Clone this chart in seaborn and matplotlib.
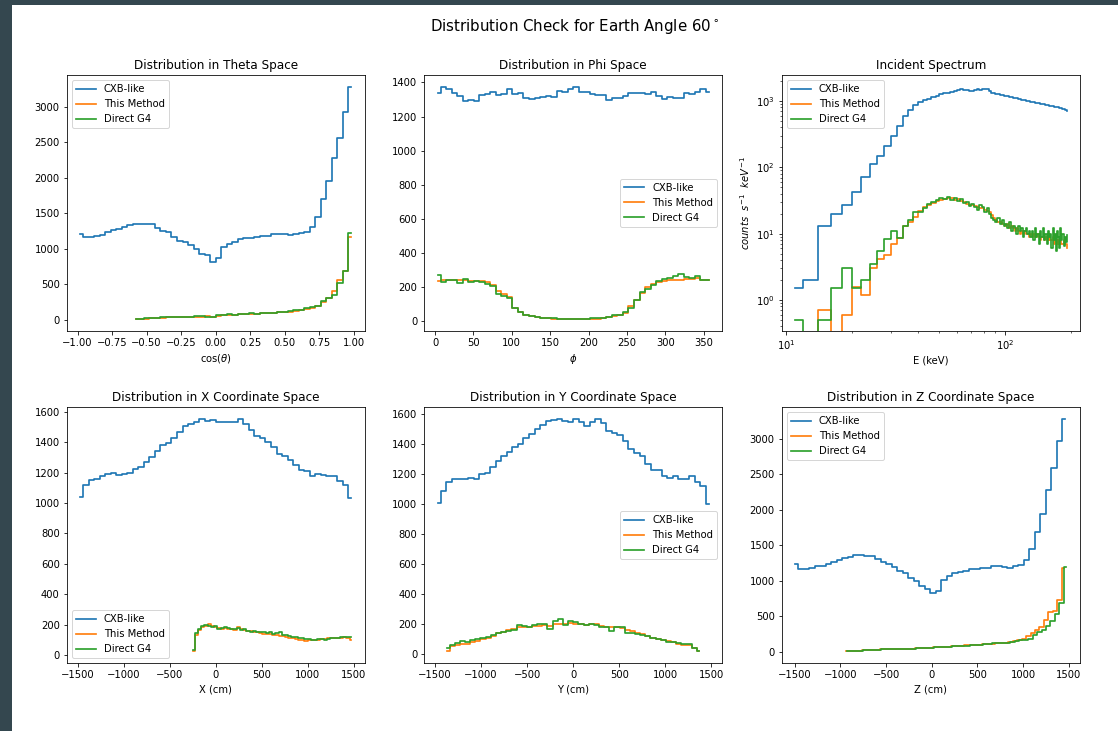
import numpy as np
import matplotlib
matplotlib.use("Agg")
import matplotlib.pyplot as plt
from matplotlib.patches import Rectangle
import seaborn as sns

# ---------------------------------------------------------------- data
series_names = ["CXB-like", "This Method", "Direct G4"]

# cos(theta) distribution
theta_cxb = [1210, 1160, 1160, 1180, 1190, 1240, 1260, 1280, 1300, 1330,
             1350, 1345, 1340, 1340, 1290, 1250, 1230, 1160, 1110, 1090,
             1050, 1000, 930, 910, 810, 870, 1020, 1060, 1100, 1130,
             1150, 1150, 1170, 1180, 1180, 1210, 1210, 1200, 1190, 1200,
             1220, 1230, 1300, 1450, 1700, 1950, 2280, 2560, 2930, 3280]
theta_method = [5, 10, 15, 20, 25, 30, 35, 35, 35, 40,
                45, 45, 45, 50, 45, 55, 60, 70, 70, 75,
                80, 80, 85, 90, 95, 100, 105, 110, 115, 125,
                130, 150, 165, 190, 250, 300, 400, 555, 690, 1160]
theta_g4 = [5, 12, 18, 20, 25, 32, 35, 38, 35, 40,
            42, 50, 48, 45, 40, 60, 65, 75, 68, 78,
            82, 88, 80, 95, 100, 98, 110, 115, 120, 130,
            140, 160, 175, 200, 260, 310, 350, 520, 690, 1220]

# phi distribution
phi_cxb = [1340, 1375, 1360, 1335, 1320, 1290, 1295, 1290, 1325, 1330,
           1345, 1325, 1330, 1360, 1330, 1340, 1310, 1305, 1310, 1315,
           1320, 1315, 1350, 1345, 1360, 1375, 1345, 1345, 1330, 1325,
           1325, 1295, 1310, 1310, 1320, 1335, 1340, 1335, 1330, 1345,
           1320, 1300, 1315, 1310, 1310, 1340, 1330, 1345, 1360, 1345]
phi_method = [235, 245, 245, 240, 240, 240, 235, 235, 235, 230,
              215, 180, 160, 145, 80, 55, 40, 30, 25, 20,
              18, 15, 15, 12, 12, 12, 12, 12, 15, 15,
              20, 25, 30, 38, 50, 90, 125, 165, 200, 220,
              230, 235, 240, 240, 240, 250, 250, 255, 245, 240]
phi_g4 = [270, 230, 240, 240, 225, 250, 230, 235, 230, 220,
          205, 160, 150, 140, 80, 55, 40, 30, 25, 22,
          20, 18, 15, 15, 15, 15, 15, 15, 18, 18,
          22, 28, 35, 40, 55, 80, 125, 170, 190, 215,
          235, 250, 255, 265, 280, 260, 255, 265, 245, 240]

# incident spectrum (keV bins 11..191)
energy_kev = np.arange(11, 193, 2)
spec_cxb = [1.5, 2.0, 13, 20, 27, 42, 72, 110, 146, 210, 300, 420, 600, 730, 880,
            950, 1020, 1080, 1150, 1200, 1250, 1290, 1320, 1370, 1410, 1470, 1500, 1460, 1440, 1420,
            1400, 1450, 1500, 1480, 1530, 1490, 1510, 1420, 1310, 1300, 1280, 1260, 1230, 1220, 1200,
            1190, 1170, 1160, 1140, 1120, 1110, 1090, 1080, 1060, 1040, 1035, 1020, 1000, 990, 985,
            970, 955, 958, 940, 935, 920, 918, 905, 900, 885, 884, 870, 862, 865, 850,
            845, 832, 835, 820, 812, 806, 795, 798, 780, 776, 770, 755, 752, 740, 735, 715]
spec_method = [0, 0, 0.7, 0, 0.6, 1.55, 1.2, 3.0, 4.2, 4.8, 7.0, 8.5, 13, 15, 18,
               22, 25, 27, 29, 31, 32, 33, 35, 34, 32, 33, 31, 30, 28, 27,
               27, 26, 25, 24, 24, 23, 22, 21, 19, 17, 16, 15, 15, 14, 14,
               13, 14, 12, 13, 12, 11, 12, 11, 10, 11, 10, 11, 10, 10, 9,
               10, 9, 10, 9, 9, 10, 9, 8, 9, 9, 8, 9, 8, 8, 9,
               8, 8, 9, 7, 8, 8, 7, 8, 7, 8, 7, 7, 8, 7, 7, 6]
spec_g4 = [0.5, 0, 0.5, 1.5, 3.0, 1.5, 2.0, 3.5, 5.5, 8.2, 10.8, 8.7, 13.2, 16.3, 21,
           21, 24, 28, 30, 32, 35, 33, 36, 32, 34, 31, 33, 29, 30, 26,
           28, 25, 23, 27, 25, 21, 24, 20, 17, 16, 15, 17, 14, 16, 13,
           14, 12, 15, 11, 13, 12, 10, 13, 11, 12, 9, 11, 12, 10, 11,
           9, 11, 8, 12, 9, 10, 7, 11, 9, 12, 8, 10, 7, 11, 9,
           10, 6, 12, 8, 10, 5.5, 11, 9, 6, 12, 8, 10, 6.5, 9, 7.5, 9.5]

# X coordinate (cm)
x_cxb = [1040, 1120, 1150, 1160, 1180, 1190, 1195, 1185, 1190, 1200,
         1225, 1235, 1270, 1305, 1345, 1380, 1395, 1430, 1470, 1510,
         1520, 1530, 1555, 1540, 1545, 1530, 1530, 1530, 1535, 1555,
         1520, 1480, 1440, 1430, 1400, 1370, 1320, 1310, 1280, 1250,
         1220, 1210, 1180, 1190, 1185, 1175, 1175, 1145, 1120, 1035]
x_method = [25, 130, 165, 185, 195, 205, 195, 185, 180, 175,
            180, 175, 170, 168, 185, 175, 165, 160, 158, 150,
            150, 145, 140, 140, 138, 135, 130, 128, 125, 120,
            112, 110, 105, 100, 98, 95, 97, 98, 100, 102,
            105, 108, 110, 110, 112, 115, 115, 118, 115, 100]
x_g4 = [35, 145, 175, 195, 200, 190, 185, 190, 175, 180,
        185, 180, 170, 175, 180, 165, 170, 160, 155, 160,
        155, 150, 150, 148, 150, 140, 145, 150, 135, 130,
        125, 122, 120, 115, 110, 108, 105, 100, 100, 105,
        108, 100, 105, 110, 115, 110, 120, 118, 122, 118]

# Y coordinate (cm)
y_cxb = [1005, 1090, 1145, 1170, 1170, 1170, 1172, 1165, 1200, 1210,
         1250, 1285, 1320, 1345, 1380, 1400, 1440, 1465, 1500, 1525,
         1555, 1560, 1565, 1555, 1550, 1570, 1550, 1520, 1550, 1565,
         1540, 1490, 1475, 1460, 1420, 1365, 1340, 1320, 1265, 1230,
         1225, 1185, 1175, 1190, 1170, 1170, 1185, 1145, 1120, 1000]
y_method = [25, 55, 65, 70, 72, 85, 90, 100, 110, 125,
            140, 150, 160, 170, 180, 180, 185, 190, 190, 195,
            190, 200, 205, 200, 210, 205, 200, 198, 205, 200,
            190, 185, 180, 185, 175, 165, 155, 145, 135, 125,
            112, 100, 95, 88, 80, 72, 65, 60, 40, 20]
y_g4 = [45, 60, 78, 88, 85, 95, 100, 110, 115, 128,
        140, 150, 158, 165, 195, 190, 182, 195, 200, 205,
        170, 225, 235, 195, 220, 215, 205, 195, 200, 198,
        180, 185, 155, 180, 180, 140, 145, 138, 128, 120,
        110, 102, 95, 85, 80, 75, 68, 70, 40, 20]

# Z coordinate (cm)
z_cxb = [1230, 1170, 1170, 1175, 1200, 1200, 1240, 1260, 1290, 1320,
         1335, 1360, 1360, 1345, 1340, 1300, 1260, 1240, 1190, 1140,
         1100, 1040, 1000, 930, 880, 830, 860, 1010, 1070, 1100,
         1120, 1130, 1170, 1160, 1180, 1180, 1210, 1210, 1190, 1180,
         1200, 1220, 1290, 1440, 1680, 1940, 2280, 2580, 2960, 3280]
z_method = [3, 6, 10, 14, 18, 22, 25, 28, 30, 32,
            33, 35, 36, 38, 40, 42, 44, 46, 48, 52,
            58, 62, 65, 70, 74, 78, 82, 86, 90, 93,
            97, 100, 105, 110, 115, 120, 125, 132, 145, 160,
            180, 220, 260, 300, 350, 440, 560, 570, 720, 1180]
z_g4 = [5, 8, 12, 15, 18, 22, 25, 28, 30, 35,
        32, 35, 35, 40, 38, 42, 45, 45, 48, 55,
        60, 70, 65, 70, 75, 80, 85, 85, 90, 95,
        95, 100, 105, 115, 115, 120, 125, 135, 150, 160,
        170, 180, 230, 270, 300, 360, 430, 530, 680, 1190]

# ---------------------------------------------------------------- bin centres
theta_c = np.linspace(-0.98, 0.98, 50)
theta_sub_c = np.linspace(-0.58, 0.98, 40)
phi_c = np.linspace(3.6, 356.4, 50)
coord_c = np.linspace(-1470, 1470, 50)
x_sub_c = np.linspace(-245, 1470, 50)
y_sub_c = np.linspace(-1370, 1370, 50)
z_c = np.linspace(-1493, 1456, 50)
z_method_c = np.linspace(-935, 1445, 50)
z_g4_c = np.linspace(-925, 1470, 50)

# ---------------------------------------------------------------- figure
colors = sns.color_palette("tab10")[:3]

fig = plt.figure(figsize=(1118 / 72, 731 / 72), dpi=72)
fig.patch.set_facecolor("white")
fig.patches.append(Rectangle((0, 0), 11 / 1118, 1, transform=fig.transFigure,
                             color="#34474f", zorder=0))
fig.patches.append(Rectangle((0, 1 - 4 / 731), 1, 4 / 731, transform=fig.transFigure,
                             color="#34474f", zorder=0))

axes = fig.subplots(2, 3)
fig.subplots_adjust(left=0.0597, right=0.9657, top=0.8974, bottom=0.093,
                    wspace=0.2, hspace=0.297)


def steps(ax, curves, loc):
    for (xs, ys), name, c in zip(curves, series_names, colors):
        sns.lineplot(x=np.asarray(xs, float), y=np.asarray(ys, float), ax=ax,
                     color=c, label=name, drawstyle="steps-mid",
                     estimator=None, sort=False, linewidth=1.7)
    ax.legend(loc=loc)


ax = axes[0, 0]
steps(ax, [(theta_c, theta_cxb), (theta_sub_c, theta_method), (theta_sub_c, theta_g4)],
      "upper left")
ax.set_title("Distribution in Theta Space")
ax.set_xlabel(r"cos($\theta$)")

ax = axes[0, 1]
steps(ax, [(phi_c, phi_cxb), (phi_c, phi_method), (phi_c, phi_g4)], "center right")
ax.set_title("Distribution in Phi Space")
ax.set_xlabel(r"$\phi$")

ax = axes[0, 2]
steps(ax, [(energy_kev, spec_cxb), (energy_kev, spec_method), (energy_kev, spec_g4)],
      "upper left")
ax.set_xscale("log")
ax.set_yscale("log")
ax.set_xlim(9.55, 218)
ax.set_ylim(0.342, 2450)
ax.set_title("Incident Spectrum")
ax.set_xlabel("E (keV)")
ax.set_ylabel(r"$counts\ \ s^{-1}\ \ keV^{-1}$")

ax = axes[1, 0]
steps(ax, [(coord_c, x_cxb), (x_sub_c, x_method), (x_sub_c, x_g4)], "lower left")
ax.set_title("Distribution in X Coordinate Space")
ax.set_xlabel("X (cm)")

ax = axes[1, 1]
steps(ax, [(coord_c, y_cxb), (y_sub_c, y_method), (y_sub_c, y_g4)], "center right")
ax.set_title("Distribution in Y Coordinate Space")
ax.set_xlabel("Y (cm)")

ax = axes[1, 2]
steps(ax, [(z_c, z_cxb), (z_method_c, z_method), (z_g4_c, z_g4)], "upper left")
ax.set_title("Distribution in Z Coordinate Space")
ax.set_xlabel("Z (cm)")

for ax in axes[:, :2].ravel():
    ax.set_ylabel("")
axes[1, 2].set_ylabel("")

fig.suptitle(r"Distribution Check for Earth Angle 60$^\circ$", x=0.514, y=0.977,
             fontsize=15)

fig.savefig("out.png", dpi=72, facecolor=fig.get_facecolor())
